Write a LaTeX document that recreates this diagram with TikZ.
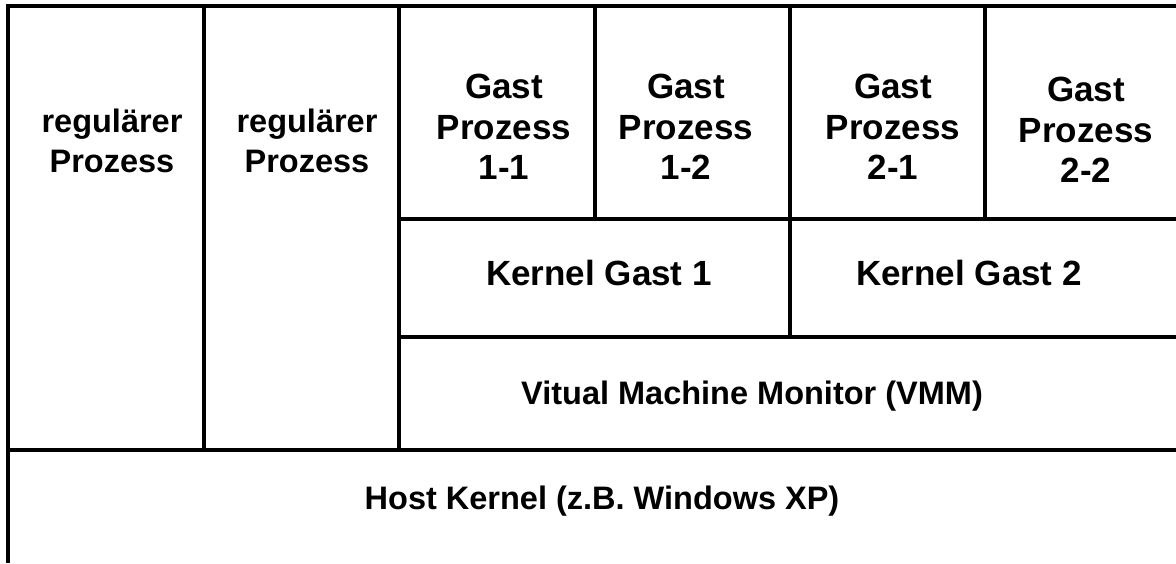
\documentclass[tikz,border=0pt]{standalone}
\usepackage{fontspec}
\setmainfont{Liberation Sans}
\usepackage{tikz}

\begin{document}
\begin{tikzpicture}[x=1pt,y=-1pt]
\tikzstyle{every node}+=[inner sep=0pt, align=center, font=\fontsize{32.5}{40}\selectfont\bfseries]
\tikzstyle{wall}=[black, line width=4pt]
\tikzstyle{big}=[font=\fontsize{35}{40.5}\selectfont\bfseries]
\useasboundingbox (0,0) rectangle (1176,563);
% frame
\draw [wall] (8,4) -- (8,563);
\draw [wall] (6,6) -- (1180,6);
\draw [wall] (8,450) -- (1180,450);
% columns
\draw [wall] (204,6) -- (204,450);
\draw [wall] (399,6) -- (399,450);
\draw [wall] (595,6) -- (595,219);
\draw [wall] (790,6) -- (790,337);
\draw [wall] (985,6) -- (985,219);
% layers of the VM side
\draw [wall] (399,219) -- (1180,219);
\draw [wall] (399,337) -- (1180,337);
% texts
\node (reg1) at (112,141) {regulärer\\Prozess};
\node (reg2) at (307,141) {regulärer\\Prozess};
\node [big] (gp11) at (504,127) {Gast\\Prozess\\1-1};
\node [big] (gp12) at (686,127) {Gast\\Prozess\\1-2};
\node [big] (gp21) at (893,127) {Gast\\Prozess\\2-1};
\node [big] (gp22) at (1086,130) {Gast\\Prozess\\2-2};
\node [big] (kg1) at (599,273) {Kernel Gast 1};
\node [big] (kg2) at (969,273) {Kernel Gast 2};
\node (vmm) at (752,396) {Vitual Machine Monitor (VMM)};
\node (host) at (602,501) {Host Kernel (z.B. Windows XP)};
\end{tikzpicture}
\end{document}
